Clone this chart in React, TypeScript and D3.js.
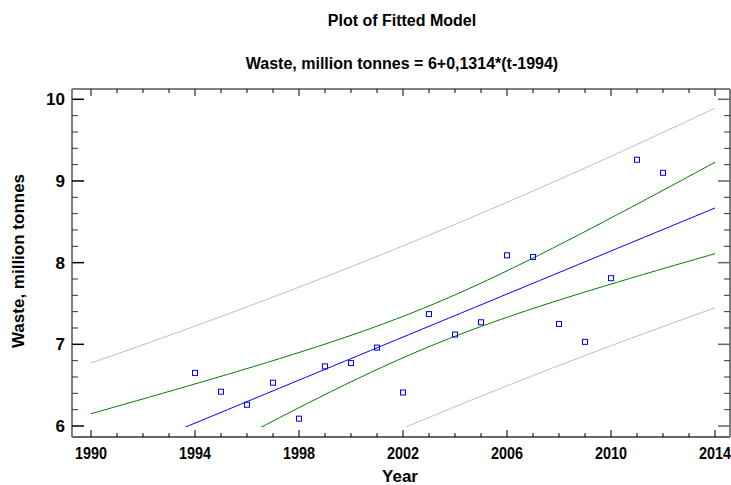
import React from 'react';
import * as d3 from 'd3';

// observed waste by year
const years = [1994, 1995, 1996, 1997, 1998, 1999, 2000, 2001, 2002, 2003, 2004, 2005, 2006, 2007, 2008, 2009, 2010, 2011, 2012];
const waste = [6.65, 6.42, 6.26, 6.53, 6.09, 6.73, 6.77, 6.96, 6.41, 7.37, 7.12, 7.27, 8.09, 8.07, 7.25, 7.03, 7.81, 9.26, 9.10];

const xTicks = [1990, 1994, 1998, 2002, 2006, 2010, 2014];
const yTicks = [6, 7, 8, 9, 10];
const tCrit = 2.1098; // 95%, df = 17

const W = 731, H = 485;
const box = { left: 72, top: 89, right: 730, bottom: 437 };
const narrow = '"Liberation Sans Narrow", "Arial Narrow", "Liberation Sans", Arial, sans-serif';

export default function App() {
  const x = d3.scaleLinear().domain([1990, 2014]).range([91, 715]);
  const y = d3.scaleLinear().domain([6, 10]).range([426, 99.3]);

  // least squares fit
  const n = years.length;
  const mx = d3.mean(years) as number;
  const my = d3.mean(waste) as number;
  const sxx = d3.sum(years, (t) => (t - mx) * (t - mx));
  const sxy = d3.sum(years, (t, i) => (t - mx) * (waste[i] - my));
  const b = sxy / sxx;
  const a = my - b * mx;
  const sse = d3.sum(years, (t, i) => Math.pow(waste[i] - (a + b * t), 2));
  const s = Math.sqrt(sse / (n - 2));

  const ts = d3.range(1990, 2014.001, 0.25);
  const fit = (t: number) => a + b * t;
  const ci = (t: number) => tCrit * s * Math.sqrt(1 / n + (t - mx) * (t - mx) / sxx);
  const pi = (t: number) => tCrit * s * Math.sqrt(1 + 1 / n + (t - mx) * (t - mx) / sxx);

  const line = d3.line<[number, number]>().x((d) => x(d[0])).y((d) => y(d[1]));
  const mk = (f: (t: number) => number) => line(ts.map((t) => [t, f(t)] as [number, number])) || '';

  const curves = [
    { d: mk((t) => fit(t) + pi(t)), c: '#c0c0c0' },
    { d: mk((t) => fit(t) - pi(t)), c: '#c0c0c0' },
    { d: mk((t) => fit(t) + ci(t)), c: '#008000' },
    { d: mk((t) => fit(t) - ci(t)), c: '#008000' },
    { d: mk(fit), c: '#0000ff' },
  ];

  const xMinor = d3.range(1990, 2015, 1);
  const yMinor = d3.range(6, 10.01, 0.2);

  return (
    <svg width={W} height={H} style={{ position: 'absolute', left: 0, top: 0, background: '#fff' }}>
      <defs>
        <clipPath id="plotclip">
          <rect x={box.left} y={box.top} width={box.right - box.left} height={y(6) - box.top + 1} />
        </clipPath>
      </defs>

      <text x={402} y={26} textAnchor="middle" fontFamily={narrow} fontWeight="bold" fontSize={16}>Plot of Fitted Model</text>
      <text x={402} y={69} textAnchor="middle" fontFamily={narrow} fontWeight="bold" fontSize={16}>Waste, million tonnes = 6+0,1314*(t-1994)</text>

      {/* curves */}
      <g clipPath="url(#plotclip)">
        {curves.map((c, i) => (
          <path key={i} d={c.d} fill="none" stroke={c.c} strokeWidth={1} />
        ))}
      </g>

      {/* points */}
      {years.map((t, i) => (
        <rect key={t} x={x(t) - 2.5} y={y(waste[i]) - 2.5} width={5} height={5} fill="none" stroke="#0000ff" strokeWidth={1} />
      ))}

      {/* frame */}
      <line x1={box.left} x2={box.right} y1={box.top} y2={box.top} stroke="#000" strokeWidth={1.2} />
      <line x1={box.left} x2={box.right} y1={box.bottom} y2={box.bottom} stroke="#333" strokeWidth={1.5} />
      <line x1={box.left} x2={box.left} y1={box.top} y2={box.bottom} stroke="#808080" strokeWidth={2} />
      <line x1={box.right} x2={box.right} y1={box.top} y2={box.bottom} stroke="#808080" strokeWidth={2} />

      {/* x ticks */}
      {xMinor.map((t) => {
        const major = (t - 1990) % 4 === 0;
        const len = major ? 7 : 4;
        return (
          <g key={t}>
            <line x1={x(t)} x2={x(t)} y1={box.bottom} y2={box.bottom - len} stroke="#000" />
            <line x1={x(t)} x2={x(t)} y1={box.top} y2={box.top + len} stroke="#000" />
          </g>
        );
      })}
      {xTicks.map((t) => (
        <text key={t} x={x(t)} y={459} textAnchor="middle" fontFamily={narrow} fontWeight="bold" fontSize={17} textLength={32} lengthAdjust="spacingAndGlyphs">{t}</text>
      ))}

      {/* y ticks */}
      {yMinor.map((v, i) => {
        const major = i % 5 === 0;
        const len = major ? 12 : 6;
        return (
          <g key={i}>
            <line x1={box.left} x2={box.left + len} y1={y(v)} y2={y(v)} stroke={major ? '#000' : '#333'} strokeWidth={major ? 1.5 : 1} />
            <line x1={box.right} x2={box.right - len} y1={y(v)} y2={y(v)} stroke={major ? '#666' : '#333'} strokeWidth={major ? 1.5 : 1} />
          </g>
        );
      })}
      {yTicks.map((v) => (
        <text key={v} x={65} y={y(v) + 6} textAnchor="end" fontFamily={narrow} fontWeight="bold" fontSize={17}>{v}</text>
      ))}

      <text x={400} y={482} textAnchor="middle" fontFamily={narrow} fontWeight="bold" fontSize={17}>Year</text>
      <text transform={`translate(24,${261}) rotate(-90)`} textAnchor="middle" fontFamily='"Liberation Sans", Arial, sans-serif' fontWeight="bold" fontSize={17}>Waste, million tonnes</text>
    </svg>
  );
}
